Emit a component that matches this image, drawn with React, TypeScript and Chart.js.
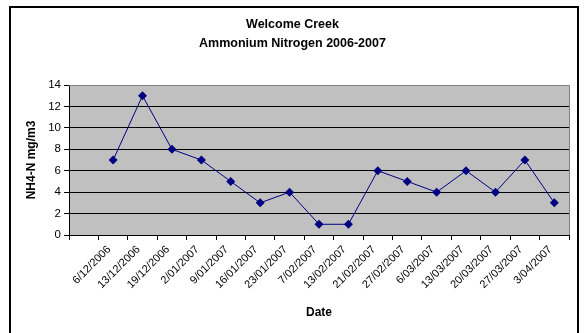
import React, { useEffect, useRef } from "react";
import { Chart, registerables } from "chart.js";

Chart.register(...registerables);

const titleLines = ["Welcome Creek", "Ammonium Nitrogen 2006-2007"];
const yAxisTitle = "NH4-N mg/m3";
const xAxisTitle = "Date";
const categories = [
  "",
  "6/12/2006",
  "13/12/2006",
  "19/12/2006",
  "2/01/2007",
  "9/01/2007",
  "16/01/2007",
  "23/01/2007",
  "7/02/2007",
  "13/02/2007",
  "21/02/2007",
  "27/02/2007",
  "6/03/2007",
  "13/03/2007",
  "20/03/2007",
  "27/03/2007",
  "3/04/2007",
];
const nh4Values: (number | null)[] = [null, 7, 13, 8, 7, 5, 3, 4, 1, 1, 6, 5, 4, 6, 4, 7, 3];
const yMin = 0;
const yMax = 14;
const yStep = 2;

const FONT = '"Liberation Sans", Arial, sans-serif';

const framePlugin = {
  id: "excelFrame",
  beforeDraw(chart: any) {
    const { ctx, chartArea } = chart;
    ctx.save();
    ctx.fillStyle = "#ffffff";
    ctx.fillRect(0, 0, chart.width, chart.height);
    ctx.fillStyle = "#c0c0c0";
    ctx.fillRect(chartArea.left, chartArea.top, chartArea.right - chartArea.left, chartArea.bottom - chartArea.top);
    ctx.restore();
  },
  afterDraw(chart: any) {
    const { ctx, chartArea } = chart;
    ctx.save();
    ctx.strokeStyle = "#808080";
    ctx.lineWidth = 1;
    ctx.beginPath();
    ctx.moveTo(chartArea.left, chartArea.top + 0.5);
    ctx.lineTo(chartArea.right + 0.5, chartArea.top + 0.5);
    ctx.lineTo(chartArea.right + 0.5, chartArea.bottom);
    ctx.stroke();
    ctx.strokeStyle = "#000000";
    ctx.lineWidth = 2;
    ctx.strokeRect(10, 7, 568, 400);
    ctx.restore();
  },
};

export default function App() {
  const canvasRef = useRef<HTMLCanvasElement | null>(null);

  useEffect(() => {
    if (!canvasRef.current) return;
    const chart = new Chart(canvasRef.current, {
      type: "line",
      data: {
        labels: categories,
        datasets: [
          {
            label: "NH4-N",
            data: nh4Values,
            borderColor: "#000080",
            backgroundColor: "#000080",
            borderWidth: 1,
            pointStyle: "rectRot",
            pointRadius: 4.5,
            pointBorderWidth: 0,
            pointBackgroundColor: "#000080",
            tension: 0,
            spanGaps: false,
            yAxisID: "y",
          },
        ],
      },
      options: {
        responsive: false,
        animation: false,
        devicePixelRatio: 1,
        layout: { padding: { left: 0, right: 0, top: 0, bottom: 0 } },
        plugins: {
          legend: { display: false },
          tooltip: { enabled: false },
          title: {
            display: true,
            text: titleLines,
            color: "#000",
            font: { family: FONT, size: 12.5, weight: "bold", lineHeight: 1.52 },
            padding: { top: 15.5, bottom: 31.5 },
          },
        },
        scales: {
          x: {
            type: "category",
            offset: true,
            afterFit: (scale: any) => {
              scale.height = 98;
            },
            grid: {
              offset: true,
              drawOnChartArea: false,
              drawTicks: true,
              tickLength: 5,
              color: "#000",
            },
            border: { color: "#000", width: 1 },
            ticks: {
              autoSkip: false,
              minRotation: 45,
              maxRotation: 45,
              padding: 3,
              labelOffset: -4,
              color: "#000",
              font: { family: FONT, size: 11 },
            },
            title: {
              display: true,
              text: xAxisTitle,
              color: "#000",
              font: { family: FONT, size: 12, weight: "bold", lineHeight: 1.2 },
              padding: { top: 0, bottom: 12.8 },
            },
          },
          y: {
            min: yMin,
            max: yMax,
            afterFit: (scale: any) => {
              scale.width = 69;
            },
            grid: {
              color: (c: any) => (c.tick && c.tick.value === yMax ? "rgba(0,0,0,0)" : "#000"),
              lineWidth: 1,
              drawTicks: true,
              tickLength: 5,
              tickColor: "#000",
            },
            border: { color: "#000", width: 1 },
            ticks: {
              stepSize: yStep,
              padding: 3,
              color: "#000",
              font: { family: FONT, size: 11.5 },
            },
            title: {
              display: true,
              text: yAxisTitle,
              color: "#000",
              font: { family: FONT, size: 12, weight: "bold", lineHeight: 1.2 },
              padding: { top: 24.8, bottom: 0 },
            },
          },
          spacer: {
            type: "linear",
            position: "right",
            min: yMin,
            max: yMax,
            afterFit: (scale: any) => {
              scale.width = 16;
            },
            grid: { display: false, drawOnChartArea: false, drawTicks: false },
            border: { display: false },
            ticks: { display: false },
            title: { display: false },
          },
        },
      },
      plugins: [framePlugin],
    });
    return () => chart.destroy();
  }, []);

  return (
    <div style={{ position: "fixed", left: 0, top: 0, width: 585, height: 333 }}>
      <canvas ref={canvasRef} width={585} height={333} style={{ width: 585, height: 333, display: "block" }} />
    </div>
  );
}
